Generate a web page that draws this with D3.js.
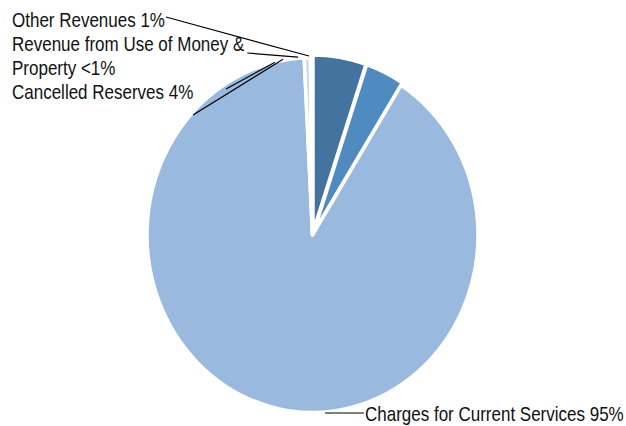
<!DOCTYPE html>
<html>
<head>
<meta charset="utf-8">
<script src="https://cdn.jsdelivr.net/npm/d3@7"></script>
<style>
  html, body { margin: 0; padding: 0; background: #fff; }
  svg { display: block; }
  text { font-family: "Liberation Sans", Arial, sans-serif; fill: #111; }
</style>
</head>
<body>
<svg id="chart" width="626" height="426"></svg>
<script>
// ---- data (clockwise from 12 o'clock) ----
const categories = ["Slice A", "Slice B", "Charges for Current Services", "Revenue from Use of Money & Property", "Other Revenues"];
const values = [5.2, 3.8, 90.2, 0.6, 0.2];
const colors = ["#44739f", "#4f8bc1", "#99b9df", "#c9d8ec", "#ffffff"];

// labels (text lines) and the pie angle (deg) the leader touches
const labelLines = [
  ["Other Revenues 1%"],
  ["Revenue from Use of Money &", "Property <1%"],
  ["Cancelled Reserves 4%"],
  ["Charges for Current Services 95%"]
];
const leaderAngles = [[-1.2], [-5], [-10.2, -13.1], [175.7]];

const W = 626, H = 426;
const cx = 312.5, cy = 235, R = 165.5, sy = 1.072;

const svg = d3.select("#chart");
const pie = d3.pie().sort(null).value(d => d).startAngle(0).endAngle(2 * Math.PI);
const arcs = pie(values);
const arc = d3.arc().innerRadius(0).outerRadius(R);

const g = svg.append("g").attr("transform", `translate(${cx},${cy}) scale(1,${sy})`);
g.selectAll("path").data(arcs).join("path")
  .attr("d", arc)
  .attr("transform", (d, i) => {
    const off = i < 2 ? 2.5 : 0;
    const m = (d.startAngle + d.endAngle) / 2;
    return `translate(${off * Math.sin(m)},${-off * Math.cos(m)})`;
  })
  .attr("fill", (d, i) => colors[i])
  .attr("stroke", "#fff")
  .attr("stroke-width", 3.5)
  .attr("stroke-linejoin", "round")
  .attr("vector-effect", "non-scaling-stroke");

function pt(deg, r) {
  const a = deg * Math.PI / 180;
  return [cx + r * Math.sin(a), cy - r * Math.cos(a) * sy];
}

// label layout
const fs = 20, lh = 24, sx = 0.85;
const leftX = 12, firstBase = 27;
const lab = svg.append("g");
let line = 0;
const textEnds = [];
labelLines.slice(0, 3).forEach((lines, li) => {
  const t = lab.append("text")
    .attr("transform", `translate(${leftX},${firstBase + line * lh}) scale(${sx},1)`)
    .attr("font-size", fs);
  lines.forEach((s, k) => {
    t.append("tspan").attr("x", 0).attr("dy", k === 0 ? 0 : lh).text(s);
  });
  textEnds.push({ first: firstBase + line * lh, wFirst: t.select("tspan").node().getComputedTextLength() * sx, last: firstBase + (line + lines.length - 1) * lh });
  line += lines.length;
});

// bottom label
lab.append("text")
  .attr("transform", `translate(365,421) scale(${sx},1)`)
  .attr("font-size", fs)
  .text(labelLines[3][0]);

// leader lines
const lines = svg.append("g").attr("stroke", "#000").attr("stroke-width", 1.2).attr("fill", "none");
// Other Revenues
{
  const e = textEnds[0];
  const [x, y] = pt(leaderAngles[0][0], 167);
  lines.append("line").attr("x1", leftX + e.wFirst + 1).attr("y1", e.first - 10).attr("x2", x).attr("y2", y);
}
// Revenue from Use of Money
{
  const e = textEnds[1];
  const [x, y] = pt(leaderAngles[1][0], 166.5);
  lines.append("line").attr("x1", leftX + e.wFirst + 3).attr("y1", e.first + 2).attr("x2", x).attr("y2", y);
}
// Cancelled Reserves
{
  const [x1, y1] = pt(leaderAngles[2][0], 166.5);
  const [x2, y2] = pt(leaderAngles[2][1], 165.5);
  lines.append("line").attr("x1", 193).attr("y1", 115).attr("x2", x1).attr("y2", y1);
  lines.append("line").attr("x1", 226).attr("y1", 89).attr("x2", x2).attr("y2", y2);
}
// Charges
{
  const [x, y] = pt(leaderAngles[3][0], 166.5);
  lines.append("line").attr("x1", x).attr("y1", 413).attr("x2", 364).attr("y2", 413);
}
</script>
</body>
</html>
